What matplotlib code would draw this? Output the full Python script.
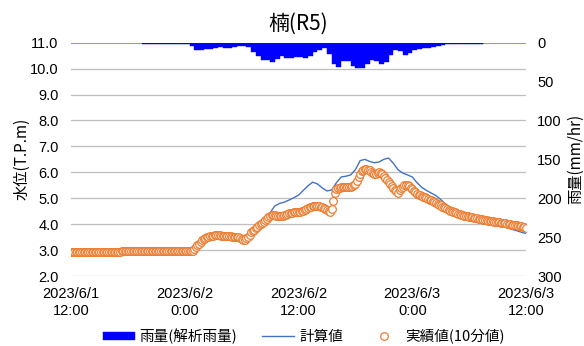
import numpy as np
import matplotlib
matplotlib.use('Agg')
import matplotlib.pyplot as plt

plt.rcParams['font.family'] = ['Liberation Sans', 'Noto Sans CJK JP']
jp = ['Noto Sans CJK JP', 'Liberation Sans']

title = '楠(R5)'
tick_labels = ['2023/6/1\n12:00', '2023/6/2\n0:00', '2023/6/2\n12:00', '2023/6/3\n0:00', '2023/6/3\n12:00']
tick_hours = [0, 12, 24, 36, 48]

# rainfall, 30-minute slots from 2023/6/1 12:00 (mm/hr)
rain = [0, 0, 0, 0, 0, 0, 0, 0, 0, 0, 0, 0, 0, 0, 0,
        1.5, 1.5, 1.5, 1.5, 1.5, 1.5, 1.5, 1.5, 1.5, 1.5,
        4, 9.5, 9.5, 8.5, 8.5, 7, 6, 7, 7, 5, 4, 4, 6, 12, 17,
        22, 22, 25, 21, 17, 20, 20, 18, 18, 20, 17, 12, 9.5, 7, 14,
        28, 31, 24, 23, 30, 32, 32, 27, 22, 24, 27, 25, 16, 10, 11,
        16, 13, 9, 8.5, 7, 6.5, 5.5, 4.5, 3.5, 2, 1.5, 1.5, 2, 1.5,
        1.5, 1.5, 2, 1, 0, 0, 0, 0, 0, 0, 0, 0]

# computed water level every 30 minutes (T.P.m)
calc = [2.92] * 8 + [2.93] * 8 + [2.94] * 8 + [2.94, 2.95,
        2.95, 3.05, 3.25, 3.4, 3.5, 3.55, 3.53, 3.51, 3.5, 3.48,
        3.42, 3.48, 3.65, 3.82, 4.0, 4.2, 4.44, 4.7, 4.8, 4.85,
        4.93, 5.02, 5.12, 5.3, 5.48, 5.62, 5.55, 5.4, 5.28, 5.32,
        5.6, 5.82, 5.85, 5.9, 6.1, 6.45, 6.5, 6.42, 6.37, 6.4,
        6.5, 6.55, 6.35, 6.1, 5.97, 5.9, 5.82, 5.6, 5.42, 5.3,
        5.2, 5.1, 4.95, 4.78, 4.6, 4.48, 4.4, 4.32, 4.26, 4.22,
        4.17, 4.13, 4.08, 4.03, 3.97, 3.92, 3.87, 3.8, 3.75, 3.69,
        3.64]

# observed water level, 10-minute values, one hour per row (T.P.m)
obs = [2.93, 2.93, 2.93, 2.93, 2.93, 2.93,
       2.93, 2.93, 2.93, 2.93, 2.93, 2.93,
       2.93, 2.93, 2.94, 2.94, 2.94, 2.94,
       2.94, 2.94, 2.94, 2.94, 2.94, 2.94,
       2.94, 2.94, 2.94, 2.94, 2.94, 2.94,
       2.94, 2.94, 2.95, 2.95, 2.95, 2.95,
       2.95, 2.95, 2.95, 2.95, 2.95, 2.95,
       2.95, 2.95, 2.95, 2.95, 2.95, 2.95,
       2.95, 2.95, 2.95, 2.96, 2.96, 2.96,
       2.96, 2.96, 2.96, 2.96, 2.96, 2.96,
       2.96, 2.96, 2.96, 2.96, 2.96, 2.96,
       2.96, 2.96, 2.96, 2.96, 2.97, 2.97,
       2.97, 2.97, 2.97, 2.97, 2.97, 2.98,
       3.05, 3.12, 3.19, 3.25, 3.31, 3.37,
       3.42, 3.45, 3.49, 3.52, 3.54, 3.55,
       3.56, 3.57, 3.57, 3.57, 3.57, 3.56,
       3.55, 3.55, 3.54, 3.54, 3.53, 3.53,
       3.52, 3.52, 3.51, 3.50, 3.49, 3.47,
       3.42, 3.40, 3.40, 3.45, 3.52, 3.60,
       3.68, 3.73, 3.79, 3.85, 3.90, 3.95,
       4.00, 4.05, 4.10, 4.15, 4.21, 4.27,
       4.32, 4.34, 4.35, 4.35, 4.33, 4.31,
       4.30, 4.31, 4.33, 4.35, 4.37, 4.40,
       4.42, 4.43, 4.44, 4.45, 4.46, 4.46,
       4.47, 4.48, 4.50, 4.52, 4.55, 4.58,
       4.62, 4.65, 4.68, 4.70, 4.70, 4.71,
       4.70, 4.70, 4.68, 4.65, 4.62, 4.58,
       4.55, 4.50, 4.45, 4.57, 4.88, 5.20,
       5.35, 5.38, 5.40, 5.42, 5.42, 5.42,
       5.42, 5.42, 5.43, 5.45, 5.48, 5.50,
       5.55, 5.65, 5.80, 5.95, 6.05, 6.10,
       6.12, 6.12, 6.10, 6.08, 6.03, 5.97,
       5.92, 5.94, 5.98, 6.00, 5.97, 5.92,
       5.85, 5.78, 5.70, 5.62, 5.55, 5.47,
       5.40, 5.33, 5.26, 5.20, 5.30, 5.40,
       5.45, 5.50, 5.52, 5.52, 5.47, 5.41,
       5.35, 5.29, 5.23, 5.18, 5.14, 5.11,
       5.08, 5.06, 5.03, 5.00, 4.98, 4.95,
       4.92, 4.88, 4.84, 4.80, 4.77, 4.75,
       4.72, 4.68, 4.65, 4.62, 4.58, 4.55,
       4.52, 4.50, 4.47, 4.45, 4.42, 4.40,
       4.38, 4.36, 4.35, 4.33, 4.31, 4.30,
       4.28, 4.27, 4.26, 4.25, 4.23, 4.22,
       4.20, 4.19, 4.18, 4.17, 4.16, 4.15,
       4.14, 4.13, 4.12, 4.11, 4.10, 4.09,
       4.08, 4.07, 4.06, 4.05, 4.04, 4.03,
       4.02, 4.01, 3.99, 3.98, 3.97, 3.96,
       3.95, 3.94, 3.92, 3.91, 3.90, 3.88,
       3.87]

calc_hours = np.arange(len(calc)) * 0.5
obs_hours = np.arange(len(obs)) / 6
rain_hours = np.arange(len(rain)) * 0.5

fig = plt.figure(figsize=(5.84, 3.46), dpi=100)
ax = fig.add_axes([0.1216, 0.2023, 0.7791, 0.6743])
ax2 = ax.twinx()

ax2.bar(rain_hours, rain, width=0.5, align='edge', color='#0000FF',
        edgecolor='#0000FF', linewidth=0.3, label='雨量(解析雨量)')
ax2.set_ylim(300, 0)
ax2.set_yticks(np.arange(0, 301, 50))

ax.plot(calc_hours, calc, color='#4472C4', lw=1.0, label='計算値', zorder=3)
ax.plot(obs_hours, obs, ls='none', marker='o', ms=5.5, mfc='white',
        mec='#ED7D31', mew=0.9, label='実績値(10分値)', zorder=4)

ax.set_xlim(0, 48)
ax.set_ylim(2.0, 11.0)
ax.set_yticks(np.arange(2, 11.5, 1.0))
ax.set_yticklabels([f'{v:.1f}' for v in np.arange(2, 11.5, 1.0)])
ax.set_xticks(tick_hours)
ax.set_xticklabels(tick_labels, linespacing=1.3)
ax.grid(axis='y', color='#BFBFBF', lw=0.9)
ax.set_axisbelow(True)

for a in (ax, ax2):
    for s in a.spines.values():
        s.set_visible(False)
    a.tick_params(length=0, labelsize=10.5, colors='#000000')
ax.tick_params(axis='y', pad=9)
ax.tick_params(axis='x', pad=8)
ax2.tick_params(axis='y', pad=8)

ax.set_ylabel('水位(T.P.m)', family=jp, fontsize=11, va='center')
ax.yaxis.set_label_coords(-0.108, 0.5)
ax2.set_ylabel('雨量(mm/hr)', family=jp, fontsize=11, va='center')
ax2.yaxis.set_label_coords(1.108, 0.5)
ax.set_title(title, family=jp, fontsize=15, pad=9)

h1, l1 = ax2.get_legend_handles_labels()
h2, l2 = ax.get_legend_handles_labels()
fig.legend(h1 + h2, l1 + l2, loc='center', bbox_to_anchor=(0.52, 0.028),
           ncol=3, frameon=False, prop={'family': jp, 'size': 10.5},
           handlelength=2.2, handleheight=0.5, columnspacing=1.7, handletextpad=0.35)

fig.savefig('out.png', dpi=100)
